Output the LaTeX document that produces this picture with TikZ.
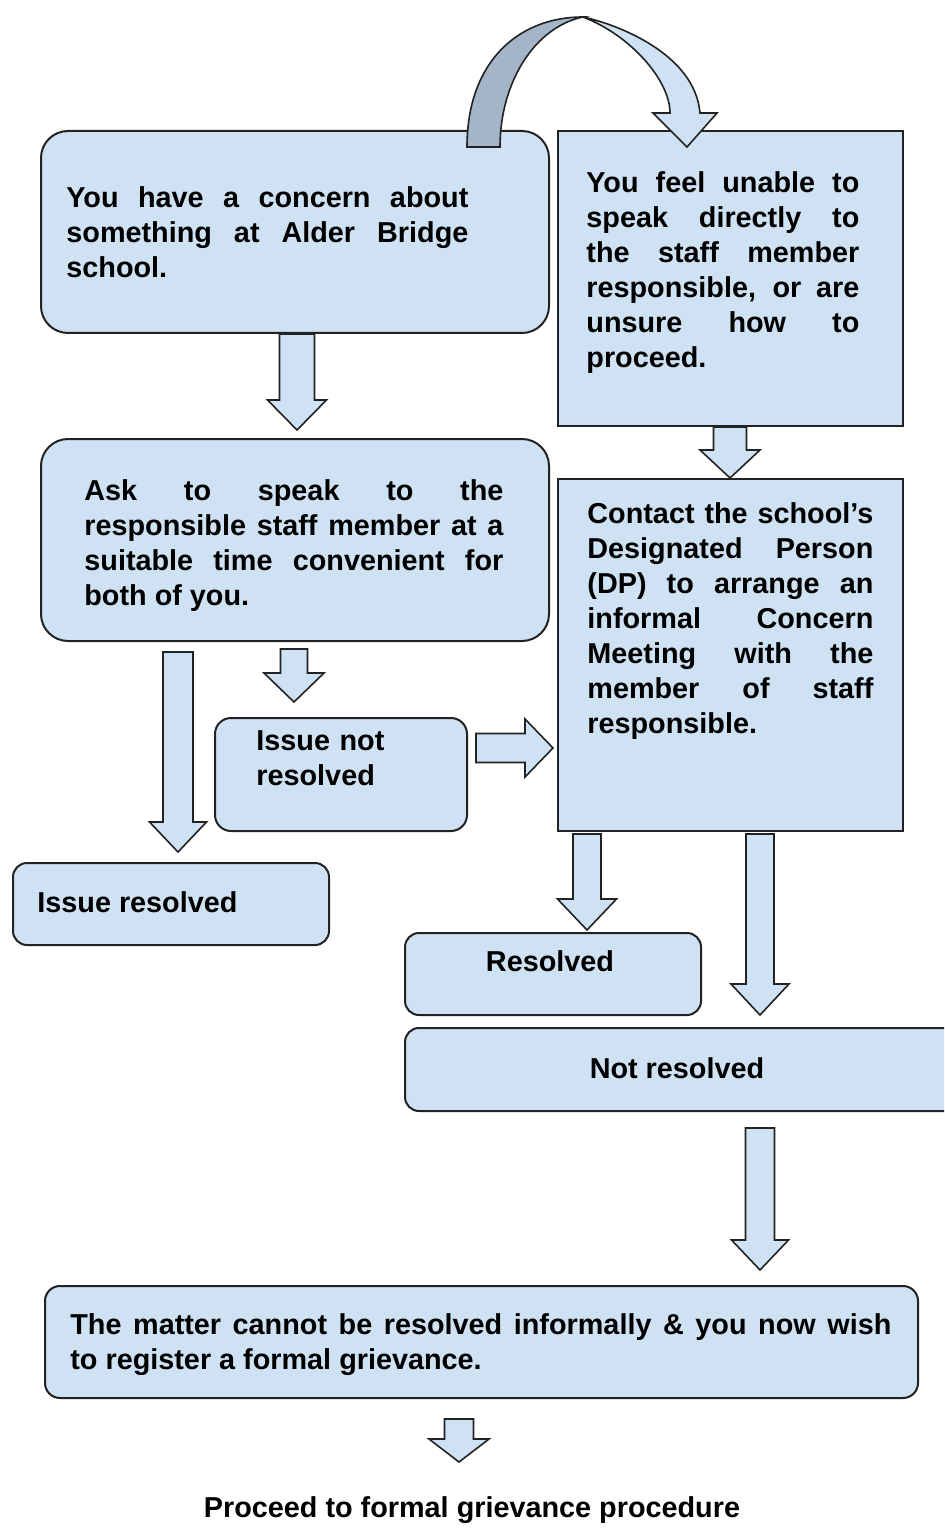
\documentclass[tikz,border=0pt]{standalone}
\usepackage{fontspec}
\setmainfont{Liberation Sans}
\usetikzlibrary{calc}

\definecolor{BoxBlue}{HTML}{CFE2F3}
\definecolor{ShadeBlue}{HTML}{A3B5C7}
\definecolor{EdgeGray}{HTML}{222222}
\hbadness=10000
\hfuzz=20pt

\newcommand{\boxfont}{\fontsize{14.4pt}{17.5pt}\selectfont\bfseries}

% block arrow pointing down: from, tip, shaft half, head half, head length
\newcommand{\blockdown}[5]{%
  \draw[blockarrow] let \p1=(#1), \p2=(#2) in
    (\x2-#3,\y1) -- (\x2-#3,\y2+#5) -- (\x2-#4,\y2+#5) -- (\x2,\y2)
    -- (\x2+#4,\y2+#5) -- (\x2+#3,\y2+#5) -- (\x2+#3,\y1) -- cycle;}
% block arrow pointing right
\newcommand{\blockright}[5]{%
  \draw[blockarrow] let \p1=(#1), \p2=(#2) in
    (\x1,\y2+#3) -- (\x2-#5,\y2+#3) -- (\x2-#5,\y2+#4) -- (\x2,\y2)
    -- (\x2-#5,\y2-#4) -- (\x2-#5,\y2-#3) -- (\x1,\y2-#3) -- cycle;}

\begin{document}
\begin{tikzpicture}[x=0.5pt,y=-0.5pt,
    rbox/.style={draw=EdgeGray,line width=1pt,fill=BoxBlue,rounded corners=#1,
      anchor=north west,inner sep=0pt},
    rbox/.default=7.5pt,
    sbox/.style={draw=EdgeGray,line width=1pt,fill=BoxBlue,
      anchor=north west,inner sep=0pt},
    txt/.style={anchor=base west,inner sep=0pt,font=\boxfont,align=justify},
    blockarrow/.style={draw=EdgeGray,line width=0.8pt,fill=BoxBlue,line join=miter}]
  \useasboundingbox (0,0) rectangle (944,1534);
  \clip (0,0) rectangle (944,1534);

  % boxes
  \node (concern) [rbox=13.5pt,minimum width=254pt,minimum height=101pt] at (40,130) {};
  \node (unable) [sbox,minimum width=172.5pt,minimum height=147.5pt] at (557,130) {};
  \node (ask) [rbox=13.5pt,minimum width=254pt,minimum height=101pt] at (40,438) {};
  \node (contact) [sbox,minimum width=172.5pt,minimum height=176pt] at (557,478) {};
  \node (notres) [rbox=8pt,minimum width=126pt,minimum height=56.5pt] at (214,717) {};
  \node (issueres) [rbox=7pt,minimum width=158pt,minimum height=41pt] at (12,862) {};
  \node (resolved) [rbox=7pt,minimum width=148pt,minimum height=41pt] at (404,932) {};
  \node (notresolved) [rbox=7pt,minimum width=290pt,minimum height=41.5pt] at (404,1027) {};
  \node (formal) [rbox=7.5pt,minimum width=436.5pt,minimum height=56pt] at (44,1285) {};

  % texts
  \node (concernText) [txt,text width=201pt] at (66,208)
    {You have a concern about\linebreak something at Alder Bridge\linebreak school.};
  \node (unableText) [txt,text width=136.5pt] at (586,193)
    {You feel unable to\linebreak speak directly to\linebreak the staff member\linebreak
     responsible, or are\linebreak unsure how to\linebreak proceed.};
  \node (askText) [txt,text width=209.5pt] at (84,500)
    {Ask to speak to the\linebreak responsible staff member at a\linebreak
     suitable time convenient for\linebreak both of you.};
  \node (contactText) [txt,text width=143pt] at (587,523)
    {Contact the school's\linebreak Designated Person\linebreak (DP) to arrange an\linebreak
     informal Concern\linebreak Meeting with the\linebreak member of staff\linebreak responsible.};
  \node (notresText) [txt,text width=70pt,align=left] at (256,750) {Issue not\\resolved};
  \node (issueresText) [txt] at (37,912) {Issue resolved};
  \node (resolvedText) [txt,anchor=base] at (550,971) {Resolved};
  \node (notresolvedText) [txt,anchor=base] at (677,1078) {Not resolved};
  \node (formalText) [txt,text width=410.5pt] at (70,1334)
    {The matter cannot be resolved informally \& you now wish\linebreak
     to register a formal grievance.};
  \node (proceed) [txt,anchor=base] at (472,1517) {Proceed to formal grievance procedure};

  % arrow tips
  \coordinate (tipAsk) at (297,430);
  \coordinate (tipContact) at (730,478);
  \coordinate (tipIssueres) at (178,852);
  \coordinate (tipNotres) at (294,702);
  \coordinate (tipSide) at (553,748);
  \coordinate (tipResolved) at (587,930);
  \coordinate (tipNotresolved) at (760,1015);
  \coordinate (tipFormal) at (760,1270);
  \coordinate (tipProceed) at (459,1462);

  % block arrows
  \blockdown{concern.south}{tipAsk}{8.75pt}{14.75pt}{15pt}
  \blockdown{unable.south}{tipContact}{8.25pt}{15pt}{14pt}
  \blockdown{[yshift=-5pt]ask.south}{tipIssueres}{7.5pt}{14.25pt}{15pt}
  \blockdown{[yshift=-3.5pt]ask.south}{tipNotres}{6.75pt}{15pt}{14.5pt}
  \blockright{[xshift=4pt]notres.east}{tipSide}{7.25pt}{14.5pt}{14pt}
  \blockdown{[yshift=-1pt]contact.south}{tipResolved}{7pt}{14.75pt}{15.5pt}
  \blockdown{[yshift=-1pt]contact.south}{tipNotresolved}{7pt}{14.5pt}{15.5pt}
  \blockdown{[yshift=-8pt]notresolved.south}{tipFormal}{7.25pt}{14.25pt}{15pt}
  \blockdown{[yshift=-10pt]formal.south}{tipProceed}{7.25pt}{15pt}{11.5pt}

  % curved arrow from concern to unable
  \draw[blockarrow,fill=ShadeBlue] (467,147) .. controls (467,62) and (518,17) .. (583,17)
    .. controls (535,27) and (500,82) .. (500,147) -- cycle;
  \draw[blockarrow] (583,17) .. controls (620,25) and (695,55) .. (700,113)
    -- (717,113) -- (687,147) -- (653,113) -- (670,113)
    .. controls (670,80) and (630,35) .. (583,17) -- cycle;
\end{tikzpicture}
\end{document}
